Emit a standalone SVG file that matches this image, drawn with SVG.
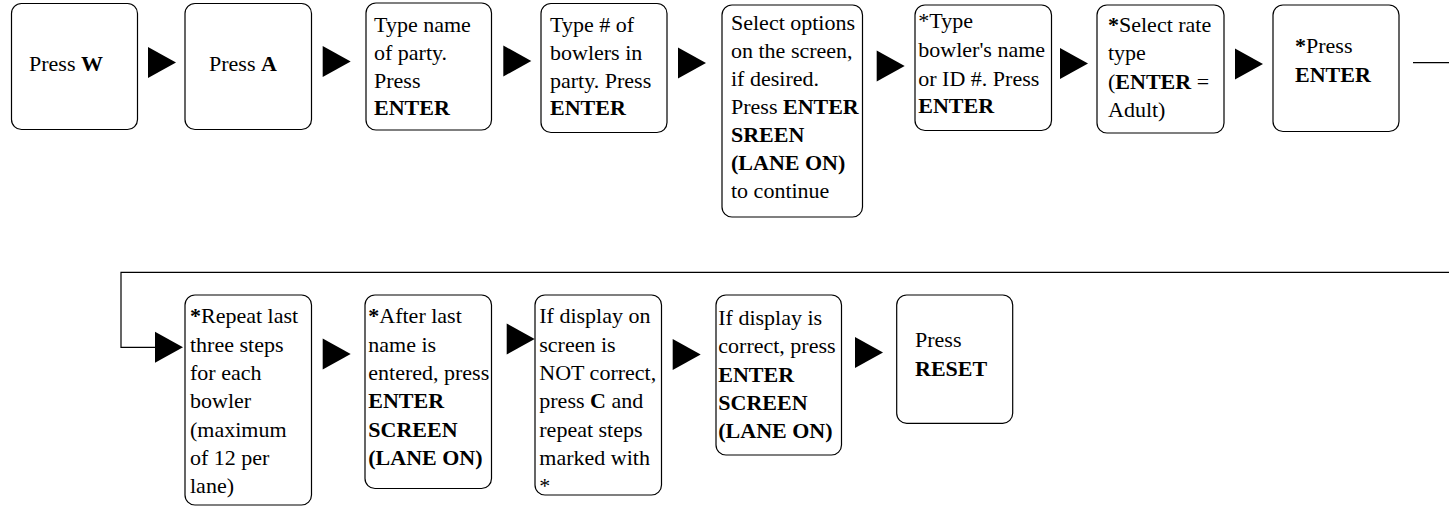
<svg xmlns="http://www.w3.org/2000/svg" xmlns:xlink="http://www.w3.org/1999/xlink" width="1449" height="507" viewBox="0 0 1449 507">
<defs>
<style>
.box{fill:#fff;stroke:#000;stroke-width:1.2}
text{font-family:"Liberation Serif","Times New Roman",serif;font-size:22px;fill:#000}
.b{font-weight:bold}
.ln{fill:none;stroke:#000;stroke-width:1.2}
</style>
<path id="tri" d="M0,-15.5 L28,0 L0,15.5 Z" fill="#000"/>
</defs>
<rect width="1449" height="507" fill="#fff"/>
<g id="connectors">
<use xlink:href="#tri" x="148" y="62.5"/>
<use xlink:href="#tri" x="322.7" y="61.5"/>
<use xlink:href="#tri" x="503.3" y="61"/>
<use xlink:href="#tri" x="678" y="63"/>
<use xlink:href="#tri" x="876.7" y="66"/>
<use xlink:href="#tri" x="1060" y="63.5"/>
<use xlink:href="#tri" x="1235" y="64"/>
<path class="ln" d="M1413,62.7 H1449"/>
<path class="ln" d="M1449,272.3 H121 V347.3 H156"/>
<use xlink:href="#tri" x="155" y="347.3"/>
<use xlink:href="#tri" x="322.7" y="354"/>
<use xlink:href="#tri" x="506.7" y="339"/>
<use xlink:href="#tri" x="672.7" y="354.5"/>
<use xlink:href="#tri" x="855" y="352.5"/>
</g>
<g id="n1"><rect class="box" x="11.5" y="3.5" width="126" height="126" rx="10"/>
<text x="29" y="70.7">Press <tspan class="b">W</tspan></text></g>
<g id="n2"><rect class="box" x="185" y="3.5" width="126.5" height="126" rx="10"/>
<text x="209" y="70.7">Press <tspan class="b">A</tspan></text></g>
<g id="n3"><rect class="box" x="366" y="3" width="125.5" height="127" rx="10"/>
<text x="374" y="31.7">Type name</text>
<text x="374" y="60">of party.</text>
<text x="374" y="87.5">Press</text>
<text x="374" y="115" class="b">ENTER</text></g>
<g id="n4"><rect class="box" x="541" y="3.5" width="126" height="129" rx="10"/>
<text x="550" y="31.7">Type # of</text>
<text x="550" y="60">bowlers in</text>
<text x="550" y="87.5">party. Press</text>
<text x="550" y="115" class="b">ENTER</text></g>
<g id="n5"><rect class="box" x="722" y="5" width="140.5" height="212" rx="10"/>
<text x="731" y="30">Select options</text>
<text x="731" y="58.3">on the screen,</text>
<text x="731" y="86">if desired.</text>
<text x="731" y="114.3">Press <tspan class="b">ENTER</tspan></text>
<text x="731" y="141.7" class="b">SREEN</text>
<text x="731" y="170" class="b">(LANE ON)</text>
<text x="731" y="198">to continue</text></g>
<g id="n6"><rect class="box" x="915" y="5" width="136.5" height="125.5" rx="10"/>
<text x="918.3" y="28.3">*Type</text>
<text x="918.3" y="57.3">bowler's name</text>
<text x="918.3" y="86">or ID #. Press</text>
<text x="918.3" y="113.3" class="b">ENTER</text></g>
<g id="n7"><rect class="box" x="1097" y="5" width="127" height="128" rx="10"/>
<text x="1108" y="31.7"><tspan class="b">*</tspan>Select rate</text>
<text x="1108" y="60">type</text>
<text x="1108" y="89">(<tspan class="b">ENTER</tspan> =</text>
<text x="1108" y="116.7">Adult)</text></g>
<g id="n8"><rect class="box" x="1273" y="5" width="126" height="126.5" rx="10"/>
<text x="1295" y="53.3"><tspan class="b">*</tspan>Press</text>
<text x="1295" y="81.7" class="b">ENTER</text></g>
<g id="n9"><rect class="box" x="185" y="295" width="126.5" height="210" rx="10"/>
<text x="190" y="323.3"><tspan class="b">*</tspan>Repeat last</text>
<text x="190" y="351.7">three steps</text>
<text x="190" y="380">for each</text>
<text x="190" y="408">bowler</text>
<text x="190" y="436.7">(maximum</text>
<text x="190" y="465">of 12 per</text>
<text x="190" y="493.3">lane)</text></g>
<g id="n10"><rect class="box" x="365" y="295" width="126.5" height="193.5" rx="10"/>
<text x="368.3" y="323.3"><tspan class="b">*</tspan>After last</text>
<text x="368.3" y="351.7">name is</text>
<text x="368.3" y="380">entered, press</text>
<text x="368.3" y="408.3" class="b">ENTER</text>
<text x="368.3" y="436.7" class="b">SCREEN</text>
<text x="368.3" y="465" class="b">(LANE ON)</text></g>
<g id="n11"><rect class="box" x="535" y="295" width="126.5" height="200" rx="10"/>
<text x="539.3" y="323.3">If display on</text>
<text x="539.3" y="351.7">screen is</text>
<text x="539.3" y="380">NOT correct,</text>
<text x="539.3" y="408.3">press <tspan class="b">C</tspan> and</text>
<text x="539.3" y="436.7">repeat steps</text>
<text x="539.3" y="465">marked with</text>
<text x="539.3" y="493">*</text></g>
<g id="n12"><rect class="box" x="716" y="295" width="125.5" height="160" rx="10"/>
<text x="718.3" y="325">If display is</text>
<text x="718.3" y="353">correct, press</text>
<text x="718.3" y="381.7" class="b">ENTER</text>
<text x="718.3" y="410" class="b">SCREEN</text>
<text x="718.3" y="438" class="b">(LANE ON)</text></g>
<g id="n13"><rect class="box" x="896.7" y="295" width="116" height="128.3" rx="10"/>
<text x="915" y="347.3">Press</text>
<text x="915" y="376" class="b">RESET</text></g>
</svg>
